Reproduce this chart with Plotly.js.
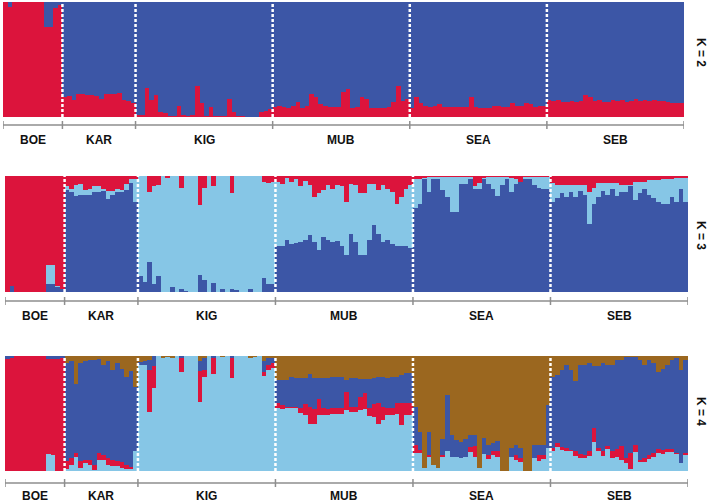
<!DOCTYPE html>
<html><head><meta charset="utf-8">
<script src="https://cdn.plot.ly/plotly-3.0.1.min.js"></script>
<style>html,body{margin:0;padding:0;background:#fff}#chart{width:709px;height:502px}</style>
</head><body><div id="chart"></div>
<script>
const popNames = ['BOE','KAR','KIG','MUB','SEA','SEB'];
const popSizes = [13,16,30,30,30,30];
const kLabels = ['K = 2','K = 3','K = 4'];

// ---- K = 2 : red cluster share (blue = remainder) ----
const k2Red = [
 1,0.96,1,1,1,1,1,1,1,0.78,0.78,0.95,0.97,
 0.17,0.18,0.15,0.2,0.2,0.19,0.19,0.18,0.16,0.2,0.2,0.2,0.21,0.15,0.14,0.12,
 0.015,0.02,0.25,0.15,0.19,0.04,0.035,0.01,0.01,0.1,0.02,0.01,0.02,0.27,0.12,0.01,0.09,0.01,0.01,0.01,0.16,0.04,0.01,0.01,0,0,0,0.04,0.05,0.07,
 0.09,0.1,0.09,0.08,0.1,0.13,0.08,0.1,0.2,0.17,0.11,0.1,0.09,0.09,0.09,0.22,0.24,0.08,0.09,0.17,0.16,0.08,0.08,0.08,0.08,0.09,0.13,0.27,0.14,0.16,
 0.08,0.17,0.12,0.1,0.09,0.1,0.11,0.09,0.09,0.09,0.09,0.09,0.09,0.17,0.09,0.08,0.08,0.08,0.1,0.1,0.09,0.09,0.12,0.1,0.1,0.12,0.11,0.09,0.1,0.1,
 0.15,0.14,0.15,0.13,0.13,0.14,0.13,0.14,0.19,0.17,0.14,0.15,0.13,0.13,0.15,0.14,0.15,0.13,0.14,0.16,0.14,0.15,0.14,0.15,0.14,0.14,0.13,0.12,0.12,0.12
];

// ---- K = 3 : dark blue (bottom), red (top); light blue = remainder ----
const k3Dark = [
 0,0.05,0,0,0,0,0,0,0,0.07,0.07,0.04,0.03,
 0.88,0.86,0.83,0.84,0.84,0.84,0.86,0.86,0.87,0.80,0.84,0.86,0.86,0.88,0.94,0.78,
 0.135,0.09,0.26,0.07,0.14,0,0,0.04,0,0.03,0.01,0,0,0.15,0.1,0,0.08,0,0.03,0,0.03,0.02,0,0,0.03,0,0,0.12,0.07,0.07,
 0.395,0.395,0.45,0.41,0.42,0.43,0.45,0.49,0.43,0.36,0.475,0.45,0.43,0.44,0.40,0.32,0.5,0.43,0.32,0.32,0.45,0.575,0.5,0.43,0.45,0.41,0.395,0.40,0.40,0.38,
 0.72,0.76,0.97,0.86,0.97,0.97,0.88,0.82,0.69,0.69,0.93,0.93,0.97,0.89,0.89,0.97,0.93,0.89,0.83,0.92,0.97,0.86,0.93,0.95,0.97,0.97,0.92,0.9,0.89,0.89,
 0.78,0.81,0.85,0.82,0.865,0.82,0.87,0.835,0.59,0.76,0.82,0.87,0.835,0.89,0.83,0.865,0.865,0.91,0.79,0.85,0.89,0.835,0.81,0.78,0.76,0.76,0.82,0.78,0.89,0.78
];
const k3Red = [
 1,0.95,1,1,1,1,1,1,1,0.77,0.77,0.95,0.97,
 0.09,0.11,0.075,0.07,0.12,0.11,0.09,0.09,0.11,0.125,0.13,0.11,0.12,0.07,0.03,0.03,
 0,0,0.14,0.09,0.08,0,0.02,0,0,0.1,0,0,0,0.25,0.1,0,0.09,0,0,0,0.15,0,0,0,0,0,0,0.05,0.06,0.05,
 0.05,0.065,0.02,0.05,0.03,0.09,0.04,0.08,0.18,0.15,0.12,0.08,0.115,0.08,0.09,0.22,0.065,0.08,0.15,0.15,0.065,0.065,0.12,0.08,0.11,0.135,0.24,0.18,0.11,0.08,
 0.03,0.03,0.02,0.01,0.01,0.01,0.01,0.01,0.01,0.01,0.01,0.01,0.01,0.09,0.06,0.02,0.01,0.01,0.01,0.01,0.01,0.02,0.03,0.05,0.01,0.01,0.01,0.01,0.01,0.01,
 0.06,0.08,0.08,0.08,0.08,0.08,0.08,0.08,0.135,0.1,0.06,0.06,0.06,0.06,0.06,0.08,0.08,0.08,0.05,0.05,0.05,0.035,0.035,0.035,0.03,0.03,0.03,0.02,0.02,0.02
];

// ---- K = 4 : light blue (bottom), red, brown (top); dark blue = remainder ----
const k4Light = [
 0,0,0,0,0,0,0,0,0,0.15,0.14,0,0,
 0.02,0.05,0.125,0.025,0.07,0.05,0.01,0.1,0.1,0.05,0.04,0.04,0.03,0.02,0.02,0.17,
 0.92,0.92,0.515,0.72,1,0.98,0.99,0.98,1,0.86,1,1,1,0.60,0.82,1,0.84,1,0.99,1,0.81,1,1,1,0.98,0.99,1,0.83,0.88,0.90,
 0.545,0.535,0.545,0.545,0.545,0.505,0.49,0.405,0.41,0.485,0.49,0.49,0.50,0.50,0.50,0.53,0.515,0.515,0.53,0.54,0.475,0.47,0.41,0.445,0.49,0.485,0.50,0.40,0.49,0.49,
 0.155,0.155,0.03,0.12,0.05,0.03,0.12,0.17,0.125,0.125,0.11,0.12,0.165,0.12,0.03,0.145,0.105,0.14,0.125,0,0,0.125,0.095,0.08,0,0,0.11,0.09,0.105,0.20,
 0.17,0.21,0.18,0.17,0.17,0.13,0.11,0.11,0.13,0.25,0.17,0.13,0.19,0.11,0.125,0.095,0.07,0.015,0.165,0.08,0.08,0.105,0.125,0.155,0.15,0.165,0.165,0.15,0.07,0.14
];
const k4Red = [
 0.97,0.98,1,1,1,1,1,1,1,0.82,0.83,0.97,0.98,
 0.07,0.06,0.03,0.06,0.03,0.045,0.045,0.06,0.04,0.06,0.06,0.045,0.045,0.035,0.015,0.005,
 0,0,0.36,0.19,0,0,0,0,0,0.12,0,0,0,0.27,0.06,0,0.14,0,0,0,0.17,0,0,0,0,0,0,0.03,0.04,0.04,
 0.045,0.035,0.015,0.015,0.015,0.045,0.09,0.155,0.13,0.145,0.06,0.045,0.045,0.045,0.045,0.16,0.045,0.045,0.115,0.135,0.07,0.115,0.18,0.115,0.06,0.06,0.09,0.19,0.10,0.10,
 0.07,0.03,0,0.02,0,0,0.015,0,0,0,0,0,0.045,0.10,0,0,0.03,0.03,0.045,0,0,0,0.04,0.03,0,0,0,0.045,0.03,0,
 0.03,0.03,0.03,0.03,0.01,0.04,0.04,0.03,0.04,0.12,0.03,0.04,0.03,0.06,0.07,0.12,0.04,0.14,0.06,0.015,0.03,0.03,0.03,0.04,0.03,0.03,0.03,0.01,0,0.015
];
const k4Brown = [
 0,0,0,0,0,0,0,0,0,0,0,0,0,
 0.065,0.04,0.24,0.06,0.04,0.035,0.035,0.03,0.08,0.04,0.12,0.065,0.11,0.18,0.13,0.27,
 0.05,0.04,0.035,0,0,0.02,0.01,0.02,0,0,0,0,0,0.04,0.02,0,0,0,0.01,0,0,0,0,0,0.02,0.01,0,0.04,0.02,0.02,
 0.21,0.21,0.21,0.18,0.19,0.19,0.19,0.16,0.19,0.19,0.19,0.19,0.18,0.18,0.18,0.21,0.19,0.19,0.2,0.2,0.2,0.19,0.18,0.18,0.19,0.18,0.18,0.165,0.15,0.15,
 0.44,0.66,0.97,0.66,0.95,0.97,0.72,0.34,0.685,0.73,0.75,0.72,0.69,0.69,0.97,0.71,0.775,0.76,0.74,1,1,0.80,0.775,0.80,1,1,0.775,0.775,0.775,0.425,
 0.18,0.165,0.12,0.08,0.12,0.22,0.08,0.08,0.06,0.09,0.09,0.06,0.08,0.08,0.035,0.035,0.005,0.005,0.005,0.035,0.08,0.035,0.065,0.135,0.11,0.08,0.035,0.02,0.12,0.035
];

const RED = '#dc143c', BLUE = '#3c56a6', LIGHT = '#86c6e6', BROWN = '#9b671f';

const N = k2Red.length;
const xs = k2Red.map((_, i) => i);
const rest = (...arrs) => xs.map(i => Math.max(0, 1 - arrs.reduce((s, a) => s + a[i], 0)));

function bar(y, color, ax) {
  return {type:'bar', x:xs, y:y, xaxis:'x'+(ax===1?'':ax), yaxis:'y'+(ax===1?'':ax),
    marker:{color:color, line:{width:0}}, hoverinfo:'skip', width:1};
}
const traces = [
  bar(k2Red, RED, 1), bar(rest(k2Red), BLUE, 1),
  bar(k3Dark, BLUE, 2), bar(rest(k3Dark, k3Red), LIGHT, 2), bar(k3Red, RED, 2),
  bar(k4Light, LIGHT, 3), bar(k4Red, RED, 3), bar(rest(k4Light, k4Red, k4Brown), BLUE, 3), bar(k4Brown, BROWN, 3)
];

const W = 709, H = 502;
const py = p => 1 - p / H;
// panel pixel boxes: [left, right, top, bottom, bracketY, labelY, kY]
const panels = [
  [3, 684, 2, 117, 125, 140, 52],
  [5, 688, 176, 292, 301, 316, 235],
  [5, 688, 356, 471, 483, 496, 411]
];

const bounds = [];
let acc = 0;
popSizes.forEach(s => { acc += s; bounds.push(acc); });

const layout = {
  width: W, height: H, margin:{l:0,r:0,t:0,b:0},
  paper_bgcolor:'#ffffff', plot_bgcolor:'#ffffff',
  barmode:'stack', bargap:0, showlegend:false,
  shapes:[], annotations:[]
};
panels.forEach((p, k) => {
  const sfx = k === 0 ? '' : String(k+1);
  layout['xaxis'+sfx] = {domain:[p[0]/W, p[1]/W], range:[-0.5, N-0.5], visible:false, fixedrange:true, anchor:'y'+sfx};
  layout['yaxis'+sfx] = {domain:[py(p[3]), py(p[2])], range:[0,1], visible:false, fixedrange:true, anchor:'x'+sfx};
  const xr = 'x'+sfx, yr = 'y'+sfx;
  // dashed separators
  bounds.slice(0, -1).forEach(b => {
    layout.shapes.push({type:'line', xref:xr, yref:yr, x0:b-0.5, x1:b-0.5, y0:0, y1:1,
      line:{color:'#ffffff', width:2.5, dash:'3px,2px'}});
  });
  // bracket
  layout.shapes.push({type:'line', xref:xr, yref:'paper', x0:-0.5, x1:N-0.5, y0:py(p[4]), y1:py(p[4]),
    line:{color:'#8e8e8e', width:1.5}});
  [0].concat(bounds).forEach(b => {
    layout.shapes.push({type:'line', xref:xr, yref:'paper', x0:b-0.5, x1:b-0.5, y0:py(p[4]-4), y1:py(p[4]+4),
      line:{color:'#8e8e8e', width:1.5}});
  });
  // population labels
  let start = 0;
  popNames.forEach((nm, i) => {
    layout.annotations.push({xref:xr, yref:'paper', x:start + popSizes[i]/2 - 0.5, y:py(p[5]),
      text:'<b>'+nm+'</b>', showarrow:false, xanchor:'center', yanchor:'middle',
      font:{family:'Liberation Sans, Arial, sans-serif', size:12, color:'#111'}});
    start += popSizes[i];
  });
  // K label
  layout.annotations.push({xref:'paper', yref:'paper', x:701/W, y:py(p[6]), text:'<b>'+kLabels[k]+'</b>',
    textangle:90, showarrow:false, xanchor:'center', yanchor:'middle',
    font:{family:'Liberation Sans, Arial, sans-serif', size:12, color:'#111'}});
});

Plotly.newPlot('chart', traces, layout, {staticPlot:true, displayModeBar:false});
</script>
</body></html>
